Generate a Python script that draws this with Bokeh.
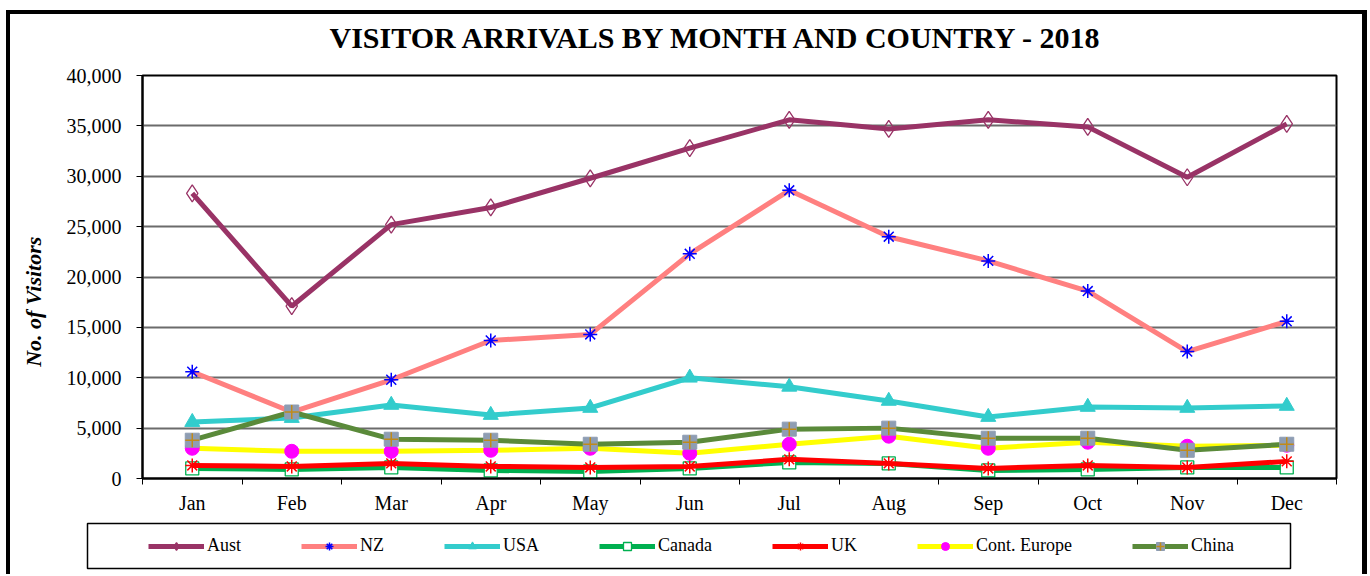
import numpy as np
from bokeh.plotting import figure
from bokeh.layouts import column, row
from bokeh.models import (FixedTicker, NumeralTickFormatter, Legend,
                          LegendItem, Range1d)
from bokeh.embed import file_html
from bokeh.resources import INLINE

# ---------------- data ----------------
months = ["Jan", "Feb", "Mar", "Apr", "May", "Jun",
          "Jul", "Aug", "Sep", "Oct", "Nov", "Dec"]
aust = [28300, 17100, 25200, 26900, 29800, 32800, 35600, 34700, 35600, 34900, 29900, 35200]
nz = [10600, 6600, 9800, 13700, 14300, 22300, 28600, 24000, 21600, 18600, 12600, 15600]
usa = [5600, 6000, 7300, 6300, 7000, 10000, 9100, 7700, 6100, 7100, 7000, 7200]
canada = [1000, 900, 1100, 800, 700, 1000, 1600, 1500, 800, 900, 1100, 1100]
uk = [1300, 1200, 1500, 1200, 1100, 1200, 1900, 1500, 1000, 1300, 1100, 1700]
europe = [3000, 2700, 2700, 2800, 3000, 2500, 3400, 4200, 3000, 3600, 3200, 3300]
china = [3800, 6600, 3900, 3800, 3400, 3600, 4900, 5000, 4000, 4000, 2800, 3400]
y_ticks = [0, 5000, 10000, 15000, 20000, 25000, 30000, 35000, 40000]
title_text = "VISITOR ARRIVALS BY MONTH AND COUNTRY - 2018"
y_title = "No. of Visitors"

FONT = "Liberation Serif"
x = np.arange(1, len(months) + 1)


def draw_series(fig):
    items = []
    LW = 5
    r = fig.line(x, aust, line_color="#993366", line_width=LW)
    m = fig.scatter(x, aust, marker="diamond", size=17, fill_alpha=0, line_color="#993366", line_width=1.3)
    items.append(LegendItem(label="Aust", renderers=[r, m]))

    r = fig.line(x, nz, line_color="#FF8080", line_width=LW)
    m = fig.scatter(x, nz, marker="asterisk", size=14, line_color="#0000FF", line_width=1.5)
    items.append(LegendItem(label="NZ", renderers=[r, m]))

    r = fig.line(x, usa, line_color="#33CCCC", line_width=LW)
    m = fig.scatter(x, usa, marker="triangle", size=15, fill_color="#33CCCC", line_color="#33CCCC")
    items.append(LegendItem(label="USA", renderers=[r, m]))

    r = fig.line(x, canada, line_color="#00B050", line_width=LW)
    m = fig.scatter(x, canada, marker="square", size=13, fill_color="white", line_color="#00B050", line_width=1.3)
    items.append(LegendItem(label="Canada", renderers=[r, m]))

    r = fig.line(x, uk, line_color="#FF0000", line_width=LW)
    m = fig.scatter(x, uk, marker="asterisk", size=14, line_color="#FF0000", line_width=1.5)
    items.append(LegendItem(label="UK", renderers=[r, m]))

    r = fig.line(x, europe, line_color="#FFFF00", line_width=LW)
    m = fig.scatter(x, europe, marker="circle", size=14, fill_color="#FF00FF", line_color="#FF00FF")
    items.append(LegendItem(label="Cont. Europe", renderers=[r, m]))

    r = fig.line(x, china, line_color="#5A8A3A", line_width=LW)
    m = fig.scatter(x, china, marker="square", size=14, fill_color="#8E9DB3", line_color="#8E9DB3")
    m2 = fig.scatter(x, china, marker="cross", size=14, line_color="#C08A1A", line_width=1.5)
    items.append(LegendItem(label="China", renderers=[r, m, m2]))
    return items


# ---------------- main chart ----------------
p = figure(frame_width=1194, frame_height=403,
           x_range=Range1d(0.5, len(months) + 0.5), y_range=Range1d(0, 40000),
           output_backend="svg", toolbar_location=None,
           min_border_left=132, min_border_right=26, min_border_top=61, min_border_bottom=40,
           background_fill_color="white", border_fill_alpha=0,
           outline_line_color="black", outline_line_width=2)
p.margin = (-17, 0, 0, 0)

p.title.text = title_text
p.title.text_font = FONT
p.title.text_font_style = "bold"
p.title.text_font_size = "30px"
p.title.text_color = "black"
p.title.align = "left"
p.title.offset = 187
p.title.standoff = 43

p.yaxis.ticker = FixedTicker(ticks=y_ticks)
p.yaxis.formatter = NumeralTickFormatter(format="0,0")
p.yaxis.major_label_text_font = FONT
p.yaxis.major_label_text_font_size = "20px"
p.yaxis.major_label_text_color = "black"
p.yaxis.major_tick_out = 6
p.yaxis.major_tick_in = 0
p.yaxis.major_tick_line_color = "black"
p.yaxis.minor_tick_line_color = None
p.yaxis.axis_line_color = "black"
p.yaxis.axis_line_width = 2
p.yaxis.major_label_standoff = 15
# trailing no-break spaces shift the centred label down to where the reference has it
p.yaxis.axis_label = y_title + "\u00a0" * 9
p.yaxis.axis_label_text_font = FONT
p.yaxis.axis_label_text_font_style = "bold italic"
p.yaxis.axis_label_text_font_size = "22px"
p.yaxis.axis_label_text_color = "black"
p.yaxis.axis_label_standoff = 18

p.xaxis.ticker = FixedTicker(ticks=list(x), minor_ticks=list(np.arange(0.5, len(months) + 1, 1.0)))
p.xaxis.major_label_overrides = {int(i): m for i, m in zip(x, months)}
p.xaxis.major_label_text_font = FONT
p.xaxis.major_label_text_font_size = "20px"
p.xaxis.major_label_text_color = "black"
p.xaxis.major_tick_line_color = None
p.xaxis.major_tick_out = 0
p.xaxis.major_tick_in = 0
p.xaxis.minor_tick_out = 6
p.xaxis.minor_tick_in = 0
p.xaxis.minor_tick_line_color = "black"
p.xaxis.axis_line_color = "black"
p.xaxis.axis_line_width = 2
p.xaxis.major_label_standoff = 7

p.xgrid.visible = False
p.ygrid.grid_line_color = "#6b6b6b"
p.ygrid.grid_line_width = 2

draw_series(p)

# ---------------- legend panel ----------------
pl = figure(frame_width=1203, frame_height=45, x_range=Range1d(-2, -1), y_range=Range1d(0, 1),
            x_axis_type=None, y_axis_type=None, output_backend="svg", toolbar_location=None,
            min_border_left=77, min_border_right=72, min_border_top=5, min_border_bottom=6,
            background_fill_color="white", border_fill_alpha=0,
            outline_line_color="black", outline_line_width=1.5)
leg_items = draw_series(pl)
legend = Legend(items=leg_items, orientation="horizontal", location=(61, 12),
                border_line_alpha=0, background_fill_alpha=0, padding=0, spacing=60,
                glyph_width=56, glyph_height=20, label_standoff=3, margin=0,
                label_text_font=FONT, label_text_font_size="18px", label_text_color="black")
pl.add_layout(legend)

layout = column(p, row(pl), spacing=0,
                styles={"border-left": "4px solid black", "border-top": "4px solid black",
                        "border-right": "5px solid black", "margin-left": "6px",
                        "margin-top": "10px"})

open("out.html", "w").write(file_html(layout, INLINE))
